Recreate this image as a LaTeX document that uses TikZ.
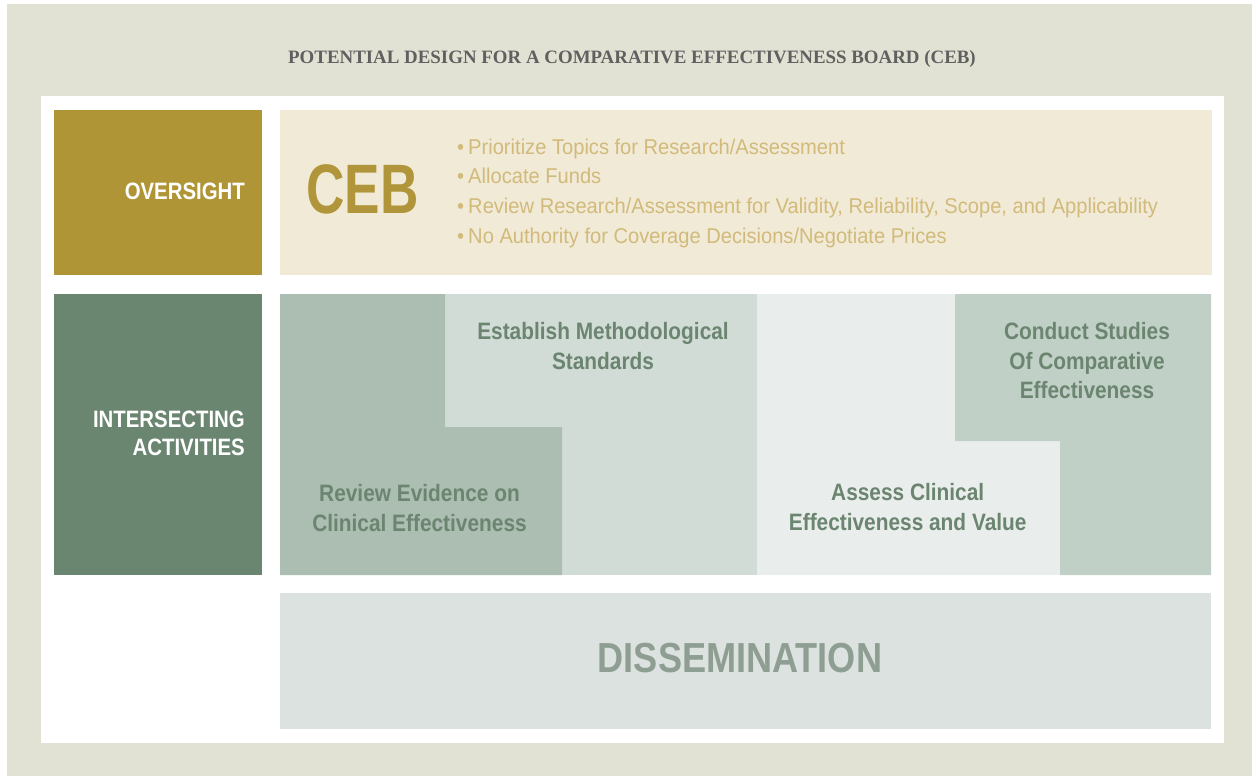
\documentclass[tikz,border=0pt]{standalone}
\usepackage{fontspec}
\setmainfont{Liberation Sans}
\newfontfamily\cond{Liberation Sans}[FakeStretch=0.86]
\newfontfamily\condR{Liberation Sans}[FakeStretch=0.88]
\newfontfamily\condB{Liberation Sans}[FakeStretch=0.76]
\newfontfamily\condL{Liberation Sans}[FakeStretch=0.94]
\newfontfamily\titlefont{Liberation Serif}
\definecolor{bgbeige}{HTML}{E2E2D4}
\definecolor{goldbox}{HTML}{B09537}
\definecolor{cebbox}{HTML}{F1EAD6}
\definecolor{cebtext}{HTML}{B0953A}
\definecolor{bullettext}{HTML}{D1BA7A}
\definecolor{greenbox}{HTML}{6A8570}
\definecolor{regdark}{HTML}{ACBDB2}
\definecolor{regmid}{HTML}{D1DCD6}
\definecolor{reglight}{HTML}{E9EEEC}
\definecolor{regright}{HTML}{C1D0C6}
\definecolor{regtext}{HTML}{6B8570}
\definecolor{dissbox}{HTML}{DCE2DF}
\definecolor{disstext}{HTML}{8E9E92}
\definecolor{titlegrey}{HTML}{606060}
\newcommand{\bul}{\textbullet\hspace{4pt}}
\tikzset{
  sidelabel/.style={anchor=base east, inner sep=0pt, align=right, text=white,
    font=\cond\bfseries\fontsize{23.7}{28.4}\selectfont},
  regionlabel/.style={anchor=base, inner sep=0pt, align=center, text=regtext,
    font=\condR\bfseries\fontsize{23.7}{29.6}\selectfont},
  bulletline/.style={anchor=base west, inner sep=0pt, text=bullettext,
    font=\condL\fontsize{21.4}{30}\selectfont},
}
\begin{document}
\begin{tikzpicture}[x=1pt,y=-1pt]
\useasboundingbox (0,0) rectangle (1252,776);
% backgrounds
\fill[white] (0,0) rectangle (1252,776);
\fill[bgbeige] (7,4) rectangle (1252,776);
\fill[white] (41,96) rectangle (1224,743);
% title
\node[anchor=base, inner sep=0pt, text=titlegrey,
  font=\titlefont\bfseries\fontsize{18.9}{22}\selectfont] (title) at (632,63.3)
  {POTENTIAL DESIGN FOR A COMPARATIVE EFFECTIVENESS BOARD (CEB)};
% oversight row
\fill[goldbox] (54,110) rectangle (262,275);
\fill[cebbox] (280,110) rectangle (1212,275);
\node[sidelabel] (oversight) at (245,199.3) {OVERSIGHT};
\node[anchor=base west, inner sep=0pt, text=cebtext,
  font=\condB\bfseries\fontsize{70}{70}\selectfont] (ceb) at (306,213.3) {CEB};
\node[bulletline] (b1) at (457,154) {\bul Prioritize Topics for Research/Assessment};
\node[bulletline] (b2) at (457,183.5) {\bul Allocate Funds};
\node[bulletline] (b3) at (457,213.3) {\bul Review Research/Assessment for Validity, Reliability, Scope, and Applicability};
\node[bulletline] (b4) at (457,243.3) {\bul No Authority for Coverage Decisions/Negotiate Prices};
% intersecting row
\fill[greenbox] (54,294) rectangle (262,575);
\node[sidelabel] (inter) at (245,455.7) {INTERSECTING\\ACTIVITIES};
\fill[regmid] (445,294) rectangle (757,575);
\fill[regdark] (280,294) -- (445,294) -- (445,427) -- (562,427) -- (562,575) -- (280,575) -- cycle;
\fill[reglight] (757,294) rectangle (1060,575);
\fill[regright] (955,294) -- (1211,294) -- (1211,575) -- (1060,575) -- (1060,441) -- (955,441) -- cycle;
\node[regionlabel] (establish) at (603,369.3) {Establish Methodological\\Standards};
\node[regionlabel] (review) at (419.5,531) {Review Evidence on\\Clinical Effectiveness};
\node[regionlabel] (assess) at (907.7,530) {Assess Clinical\\Effectiveness and Value};
\node[regionlabel] (conduct) at (1087,398.7) {Conduct Studies\\Of Comparative\\Effectiveness};
% dissemination
\fill[dissbox] (280,593) rectangle (1211,729);
\node[anchor=base, inner sep=0pt, text=disstext,
  font=\cond\bfseries\fontsize{42}{42}\selectfont] (diss) at (740,672.7) {DISSEMINATION};
\end{tikzpicture}
\end{document}
